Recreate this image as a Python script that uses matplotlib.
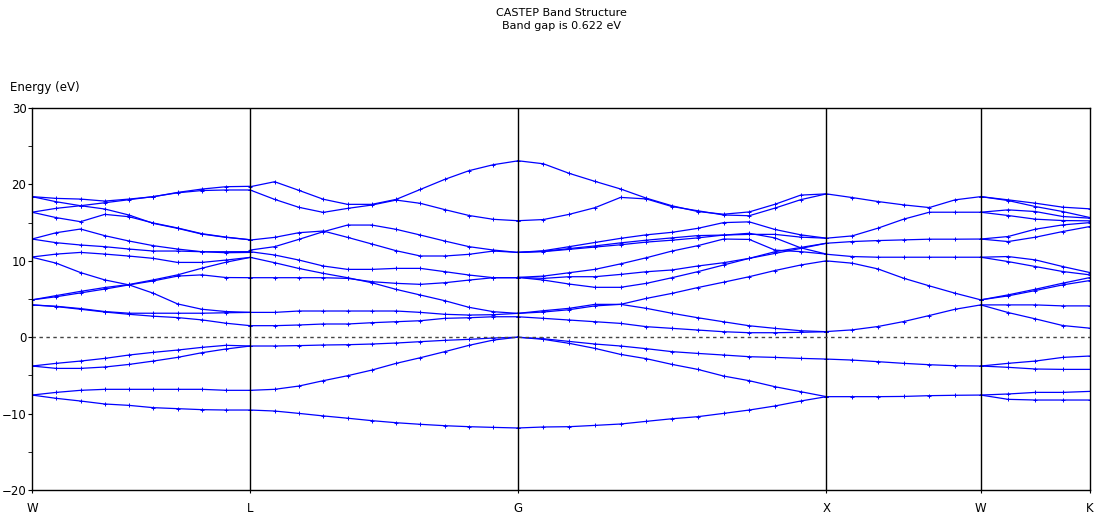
import numpy as np
import matplotlib.pyplot as plt

# high symmetry path and segment lengths (2pi/a units) with number of k-points
kpt_labels = ['W', 'L', 'G', 'X', 'W', 'K']
seg_len = [0.7071, 0.8660, 1.0, 0.5, 0.3536]
seg_pts = [10, 12, 13, 7, 5]

# W -> L
wl_bands = [
    [-7.57, -8.0, -8.35, -8.74, -8.92, -9.22, -9.35, -9.48, -9.53, -9.53],
    [-7.57, -7.22, -6.95, -6.82, -6.82, -6.82, -6.82, -6.82, -6.95, -6.95],
    [-3.77, -4.08, -4.08, -3.9, -3.56, -3.12, -2.64, -2.03, -1.54, -1.15],
    [-3.77, -3.42, -3.12, -2.77, -2.33, -1.98, -1.68, -1.33, -1.06, -1.15],
    [4.23, 4.01, 3.66, 3.3, 3.0, 2.75, 2.57, 2.27, 1.83, 1.51],
    [4.23, 4.05, 3.75, 3.36, 3.14, 3.14, 3.14, 3.14, 3.2, 3.25],
    [4.89, 5.3, 5.8, 6.3, 6.85, 7.37, 8.0, 8.16, 7.81, 7.79],
    [4.89, 5.45, 6.0, 6.5, 6.9, 7.5, 8.16, 9.03, 9.82, 10.45],
    [10.47, 9.69, 8.46, 7.5, 6.85, 5.76, 4.36, 3.66, 3.36, 3.25],
    [10.5, 10.88, 11.1, 10.88, 10.62, 10.32, 9.79, 9.79, 10.1, 10.45],
    [12.85, 13.68, 14.16, 13.29, 12.59, 11.98, 11.54, 11.19, 11.06, 11.1],
    [12.85, 12.37, 12.07, 11.85, 11.54, 11.28, 11.28, 11.19, 11.19, 11.2],
    [16.36, 15.65, 15.12, 16.08, 15.77, 14.95, 14.3, 13.55, 13.1, 12.75],
    [16.36, 16.87, 17.21, 17.6, 18.0, 18.4, 18.9, 19.2, 19.27, 19.27],
    [18.4, 18.17, 18.08, 17.82, 18.08, 18.39, 18.95, 19.39, 19.7, 19.75],
    [18.4, 17.73, 17.21, 16.78, 15.99, 14.9, 14.25, 13.5, 13.07, 12.75],
]

# L -> G
lg_bands = [
    [-9.53, -9.66, -9.97, -10.3, -10.6, -10.92, -11.19, -11.4, -11.58, -11.71, -11.8, -11.88],
    [-6.95, -6.82, -6.39, -5.69, -5.04, -4.3, -3.42, -2.68, -1.89, -1.06, -0.37, 0.0],
    [-1.15, -1.15, -1.1, -1.02, -0.98, -0.89, -0.76, -0.58, -0.41, -0.28, -0.1, 0.0],
    [1.51, 1.51, 1.6, 1.73, 1.73, 1.9, 2.03, 2.16, 2.47, 2.55, 2.68, 2.68],
    [3.25, 3.25, 3.43, 3.43, 3.43, 3.43, 3.43, 3.25, 3.0, 2.9, 2.95, 3.12],
    [7.79, 7.79, 7.79, 7.79, 7.7, 7.27, 7.05, 6.92, 7.13, 7.48, 7.79, 7.79],
    [10.45, 9.75, 9.0, 8.36, 7.79, 7.13, 6.26, 5.52, 4.78, 3.91, 3.34, 3.12],
    [11.19, 10.76, 10.1, 9.32, 8.88, 8.88, 9.01, 9.01, 8.58, 8.14, 7.79, 7.79],
    [11.41, 11.85, 12.81, 13.81, 14.68, 14.68, 14.12, 13.37, 12.59, 11.85, 11.41, 11.1],
    [12.72, 13.07, 13.68, 13.9, 13.07, 12.2, 11.32, 10.63, 10.63, 10.85, 11.28, 11.1],
    [19.26, 18.04, 17.0, 16.34, 16.86, 17.3, 17.95, 17.52, 16.7, 15.93, 15.43, 15.25],
    [19.7, 20.35, 19.22, 18.06, 17.39, 17.39, 18.04, 19.35, 20.66, 21.8, 22.58, 23.08],
]

# G -> X
gx_bands = [
    [-11.88, -11.75, -11.71, -11.54, -11.36, -11.01, -10.67, -10.4, -9.97, -9.53, -9.0, -8.35, -7.78],
    [0.0, -0.28, -0.8, -1.46, -2.25, -2.81, -3.56, -4.21, -5.08, -5.69, -6.48, -7.13, -7.78],
    [0.0, -0.2, -0.55, -0.89, -1.15, -1.5, -1.89, -2.12, -2.33, -2.55, -2.64, -2.77, -2.86],
    [2.68, 2.47, 2.25, 2.03, 1.81, 1.38, 1.16, 0.94, 0.72, 0.59, 0.59, 0.64, 0.72],
    [3.12, 3.47, 3.78, 4.3, 4.3, 3.78, 3.13, 2.55, 2.02, 1.5, 1.16, 0.85, 0.72],
    [3.12, 3.3, 3.6, 4.1, 4.3, 5.08, 5.74, 6.5, 7.2, 7.92, 8.73, 9.45, 10.0],
    [7.83, 7.48, 6.96, 6.53, 6.53, 7.05, 7.79, 8.58, 9.45, 10.32, 11.19, 11.75, 12.3],
    [7.83, 7.7, 7.92, 7.92, 8.22, 8.57, 8.8, 9.32, 9.75, 10.32, 10.97, 11.62, 12.3],
    [7.83, 8.0, 8.44, 8.88, 9.6, 10.4, 11.28, 11.98, 12.85, 12.8, 11.4, 11.2, 10.88],
    [11.1, 11.32, 11.85, 12.4, 12.94, 13.4, 13.73, 14.25, 15.0, 15.1, 14.1, 13.4, 12.96],
    [11.1, 11.25, 11.6, 11.95, 12.35, 12.7, 13.0, 13.3, 13.37, 13.6, 13.0, 11.7, 10.88],
    [11.1, 11.2, 11.5, 11.8, 12.1, 12.45, 12.7, 13.0, 13.37, 13.46, 13.46, 13.1, 12.96],
    [15.25, 15.4, 16.08, 16.95, 18.3, 18.1, 17.1, 16.55, 16.0, 15.9, 16.9, 18.0, 18.76],
    [23.1, 22.7, 21.45, 20.4, 19.4, 18.2, 17.2, 16.45, 16.1, 16.4, 17.4, 18.6, 18.76],
]

# X -> W
xw_bands = [
    [-7.78, -7.78, -7.78, -7.75, -7.65, -7.6, -7.57],
    [-2.86, -2.99, -3.2, -3.42, -3.6, -3.73, -3.77],
    [0.74, 0.96, 1.4, 2.05, 2.84, 3.66, 4.23],
    [9.99, 9.69, 8.94, 7.72, 6.72, 5.76, 4.89],
    [10.86, 10.56, 10.47, 10.47, 10.47, 10.47, 10.47],
    [12.3, 12.52, 12.65, 12.74, 12.83, 12.83, 12.85],
    [12.96, 13.26, 14.27, 15.45, 16.36, 16.36, 16.36],
    [18.76, 18.28, 17.76, 17.32, 16.97, 17.98, 18.4],
]

# W -> K
wk_bands = [
    [-7.57, -8.13, -8.22, -8.22, -8.22],
    [-7.57, -7.43, -7.22, -7.22, -7.09],
    [-3.77, -3.94, -4.16, -4.21, -4.21],
    [-3.77, -3.42, -3.12, -2.64, -2.46],
    [4.23, 3.23, 2.4, 1.53, 1.18],
    [4.23, 4.23, 4.23, 4.1, 4.1],
    [4.89, 5.41, 6.11, 6.85, 7.42],
    [4.89, 5.54, 6.28, 7.07, 7.81],
    [10.47, 9.9, 9.25, 8.6, 8.16],
    [10.47, 10.56, 10.12, 9.25, 8.46],
    [12.85, 12.52, 13.09, 13.83, 14.49],
    [12.85, 13.18, 14.14, 14.7, 15.0],
    [16.36, 15.93, 15.45, 15.27, 15.23],
    [16.36, 16.67, 16.45, 15.8, 15.58],
    [18.4, 17.89, 17.1, 16.45, 15.66],
    [18.4, 17.98, 17.54, 17.02, 16.8],
]

segments = [wl_bands, lg_bands, gx_bands, xw_bands, wk_bands]

fig, ax = plt.subplots(figsize=(10.96, 5.18), dpi=100)
fig.subplots_adjust(left=0.0292, right=0.9945, bottom=0.054, top=0.7915)

start = 0.0
kticks = [0.0]
for length, npts, bands in zip(seg_len, seg_pts, segments):
    k = np.linspace(start, start + length, npts)
    for e in bands:
        ax.plot(k, e, color='#0000ff', lw=0.9, marker='+', ms=3.2, mew=0.7)
    start += length
    kticks.append(start)

# vertical lines at inner high symmetry points
for kx in kticks[1:-1]:
    ax.axvline(kx, color='black', lw=1)
ax.axhline(0, color='#444444', lw=1, ls=(0, (2.5, 2.5)))

ax.set_xlim(0, kticks[-1])
ax.set_ylim(-20, 30)
ax.set_xticks(kticks)
ax.set_xticklabels(kpt_labels)
ax.set_yticks(np.arange(-20, 31, 10))
ax.set_yticks(np.arange(-15, 30, 10), minor=True)
ax.tick_params(axis='y', which='major', direction='out', length=3, pad=1, labelsize=8.5)
ax.tick_params(axis='y', which='minor', direction='out', length=3)
ax.tick_params(axis='x', direction='out', length=2.5, pad=6, labelsize=8.5)
for sp in ax.spines.values():
    sp.set_color('black')
    sp.set_linewidth(1)

fig.text(561 / 1096, 1 - 8 / 518, 'CASTEP Band Structure\nBand gap is 0.622 eV',
         ha='center', va='top', fontsize=8, linespacing=1.35)
fig.text(10 / 1096, 1 - 88 / 518, 'Energy (eV)', ha='left', va='center', fontsize=8.5)

fig.savefig('out.png', dpi=100)
